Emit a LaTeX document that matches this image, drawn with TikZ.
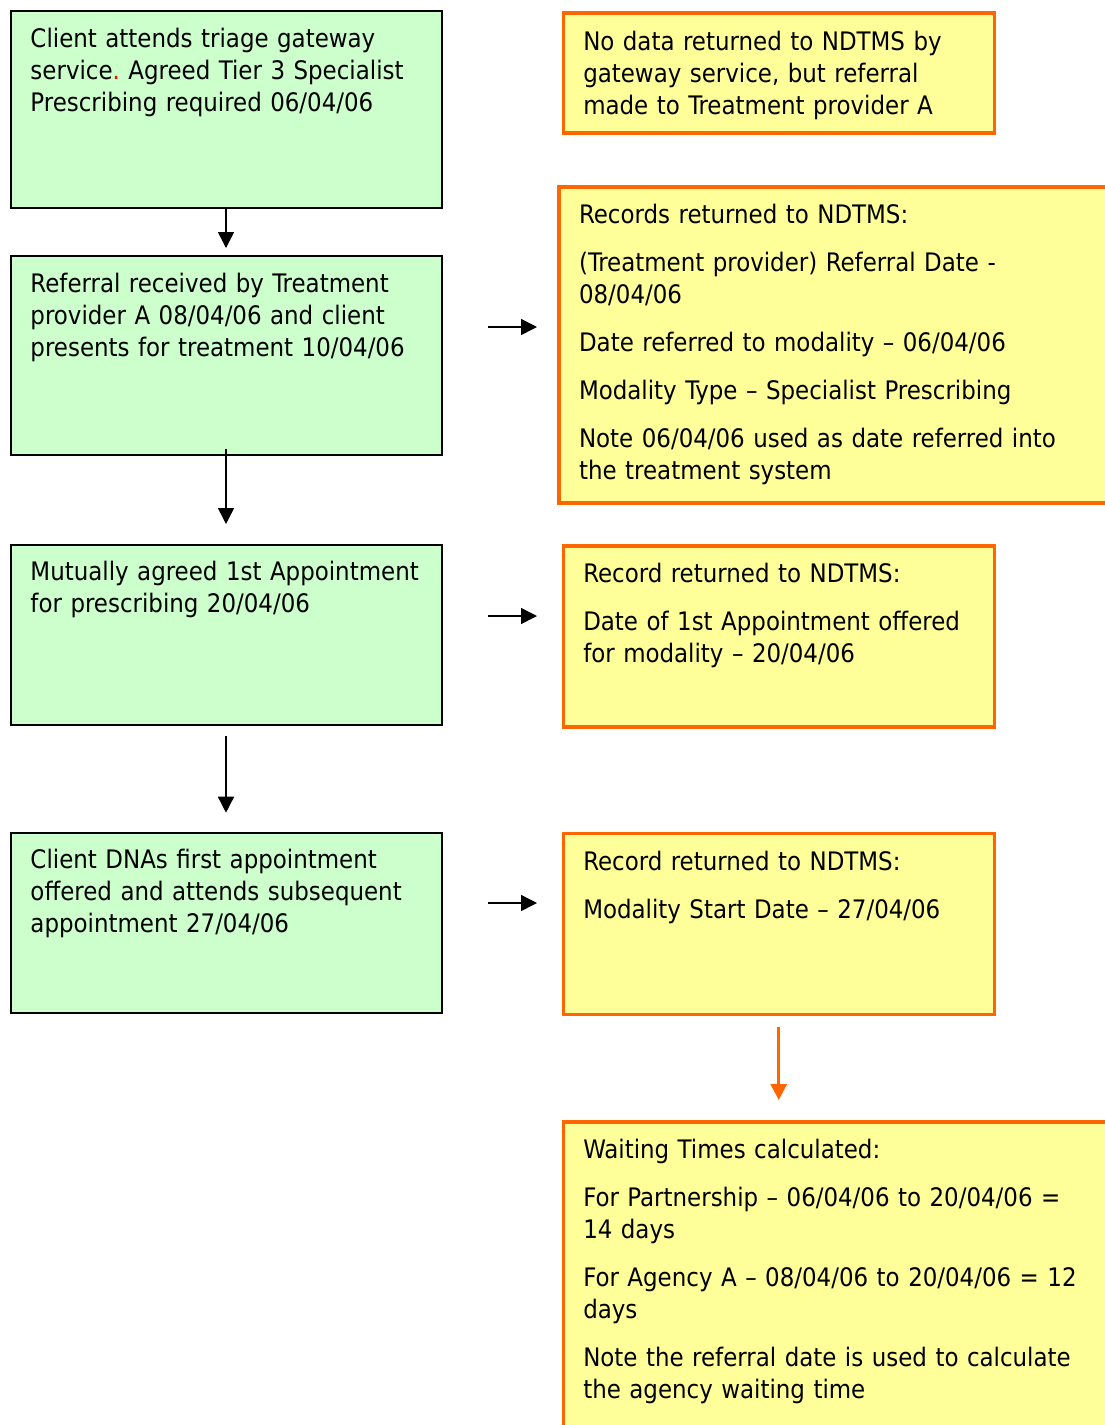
\documentclass[tikz,border=0pt]{standalone}
\usepackage{fontspec}
\setmainfont{DejaVu Sans Condensed}
\usetikzlibrary{arrows.meta}
\frenchspacing

\definecolor{boxgreen}{HTML}{CCFFCC}
\definecolor{boxyellow}{HTML}{FFFF99}
\definecolor{boxorange}{HTML}{FF6600}

\tikzset{
  textbox/.style={anchor=north west, inner xsep=20pt, inner ysep=0pt, align=left,
    font=\fontsize{25.5pt}{32pt}\selectfont},
  greenbox/.style={textbox, draw=black, line width=2pt, fill=boxgreen, text width=391pt},
  yellowbox/.style={textbox, draw=boxorange, line width=3.5pt, fill=boxyellow, text width=391pt},
  wideyellow/.style={yellowbox, text width=520pt},
  blackarrow/.style={-{Triangle[length=16pt,width=16pt]}, line width=1.5pt},
  orangearrow/.style={-{Triangle[length=16pt,width=16pt]}, line width=3pt, draw=boxorange}
}

\begin{document}
\begin{tikzpicture}[x=1pt, y=-1pt]
\useasboundingbox (0,0) rectangle (1105,1425);
%%   kw   (name)   (x, y)   {text}
    \node[greenbox, text height=36.4pt, text depth=160.6pt] (client) at (9.5,10.3)
      {Client attends triage gateway\\ service\textcolor{red}{.} Agreed Tier 3 Specialist\\ Prescribing required 06/04/06};
    \node[greenbox, text height=36.4pt, text depth=162.3pt] (referral) at (9.5,255.3)
      {Referral received by Treatment\\ provider A 08/04/06 and client\\ presents for treatment 10/04/06};
    \node[greenbox, text height=35.6pt, text depth=145pt] (appoint) at (9.5,543.7)
      {Mutually agreed 1st Appointment\\ for prescribing 20/04/06};
    \node[greenbox, text height=35.3pt, text depth=145pt] (dna) at (9.5,832)
      {Client DNAs first appointment\\ offered and attends subsequent\\ appointment 27/04/06};

    \node[yellowbox, text height=37.3pt, text depth=82.7pt] (nodata) at (561.5,11)
      {No data returned to NDTMS by\\ gateway service, but referral\\ made to Treatment provider A};
    \node[wideyellow, text height=36.7pt, text depth=279.3pt] (records) at (557.3,185)
      {Records returned to NDTMS:\\[16pt] (Treatment provider) Referral Date -\\ 08/04/06\\[16pt]
       Date referred to modality – 06/04/06\\[16pt] Modality Type – Specialist Prescribing\\[16pt]
       Note 06/04/06 used as date referred into\\ the treatment system};
    \node[yellowbox, text height=36.7pt, text depth=144.3pt] (firstrec) at (561.5,544)
      {Record returned to NDTMS:\\[16pt] Date of 1st Appointment offered\\ for modality – 20/04/06};
    \node[yellowbox, text height=36.6pt, text depth=144.3pt] (startrec) at (561.5,831.7)
      {Record returned to NDTMS:\\[16pt] Modality Start Date – 27/04/06};
    \node[wideyellow, text height=36.7pt, text depth=293.3pt] (waiting) at (561.5,1120)
      {Waiting Times calculated:\\[16pt] For Partnership – 06/04/06 to 20/04/06 =\\ 14 days\\[16pt]
       For Agency A – 08/04/06 to 20/04/06 = 12\\ days\\[16pt]
       Note the referral date is used to calculate\\ the agency waiting time};

    \draw[blackarrow, shorten >=7.3pt] (client.south) -- (referral.north);
    \draw[blackarrow, shorten <=-7.3pt, shorten >=19.7pt] (referral.south) -- (appoint.north);
    \draw[blackarrow, shorten <=10pt, shorten >=19.3pt] (appoint.south) -- (dna.north);

    \coordinate (r1s) at (488,327);
    \coordinate (r1e) at (537,327);
    \coordinate (r2s) at (488,616);
    \coordinate (r2e) at (537,616);
    \coordinate (r3s) at (488,903);
    \coordinate (r3e) at (537,903);
    \draw[blackarrow] (r1s) -- (r1e);
    \draw[blackarrow] (r2s) -- (r2e);
    \draw[blackarrow] (r3s) -- (r3e);

    \draw[orangearrow, shorten <=10.8pt, shorten >=20pt] (startrec.south) -- (startrec.south |- waiting.north);
\end{tikzpicture}
\end{document}
